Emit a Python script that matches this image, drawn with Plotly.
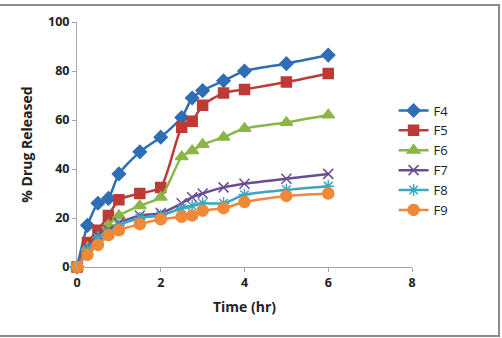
import plotly.graph_objects as go

time_hr = [0, 0.25, 0.5, 0.75, 1, 1.5, 2, 2.5, 2.75, 3, 3.5, 4, 5, 6]
F4 = [0, 17, 26, 28, 38, 47, 53, 61, 69, 72, 76, 80, 83, 86.5]
F5 = [0, 10, 15, 21, 27.5, 30, 32.5, 57, 59.5, 66, 71, 72.5, 75.5, 79]
F6 = [0, 8, 12, 17, 21, 25, 28.5, 45, 47.5, 50, 53, 56.5, 59, 62]
F7 = [0, 8, 13, 15, 18, 21, 22, 26, 28.5, 30, 32.5, 34, 36, 38]
F8 = [0, 7, 12, 14, 17, 20, 21, 24, 25, 26, 26, 29.5, 31.5, 33]
F9 = [0, 5, 9, 13, 15, 17.5, 19.5, 20.5, 21, 23, 24, 26.5, 29, 30]

series = [
    ("F4", F4, "#2F6EB5", "diamond", 10),
    ("F5", F5, "#BE3A36", "square", 10),
    ("F6", F6, "#8CB548", "triangle-up", 11),
    ("F7", F7, "#6A4C93", "x-thin-open", 10),
    ("F8", F8, "#3FA5BE", "asterisk-open", 10),
    ("F9", F9, "#F0883A", "circle", 11),
]

fig = go.Figure()
for name, vals, color, sym, size in series:
    fig.add_trace(go.Scatter(
        x=time_hr, y=vals, name=name, mode="lines+markers",
        line=dict(color=color, width=2.5, shape="spline", smoothing=0.6),
        marker=dict(symbol=sym, size=size, color=color,
                    line=dict(color=color, width=1.5)),
    ))

axis_font = dict(family="Open Sans, Liberation Sans, sans-serif", size=12.5, color="#222222")
fig.update_layout(
    width=502, height=338,
    margin=dict(l=77, r=90, t=22, b=71),
    paper_bgcolor="white", plot_bgcolor="white",
    showlegend=True,
    legend=dict(x=0.945, y=0.70, xanchor="left", yanchor="top",
                font=dict(family="Open Sans, Liberation Sans, sans-serif", size=13, color="#222222"),
                bgcolor="rgba(0,0,0,0)", tracegroupgap=0, itemwidth=30),
    xaxis=dict(range=[0, 8], dtick=2, tick0=0, showgrid=False, zeroline=False,
               showline=True, linecolor="#A6A6A6", linewidth=1,
               ticks="outside", tickcolor="#A6A6A6", ticklen=4,
               tickfont=dict(axis_font, weight="bold"),
               title=dict(text="<b>Time (hr)</b>", font=dict(axis_font, size=14), standoff=12)),
    yaxis=dict(range=[0, 100], dtick=20, tick0=0, showgrid=False, zeroline=False,
               showline=True, linecolor="#A6A6A6", linewidth=1,
               ticks="outside", tickcolor="#A6A6A6", ticklen=4,
               tickfont=dict(axis_font, weight="bold"),
               title=dict(text="<b>% Drug Released</b>", font=dict(axis_font, size=14), standoff=12)),
)
fig.update_traces(cliponaxis=False)

fig.add_shape(type="rect", xref="paper", yref="paper",
              x0=-0.26, x1=1.2597, y0=-0.2816, y1=1.0694,
              line=dict(color="#8C8C8C", width=2), fillcolor="rgba(0,0,0,0)", layer="below")

fig.write_html("out.html")
